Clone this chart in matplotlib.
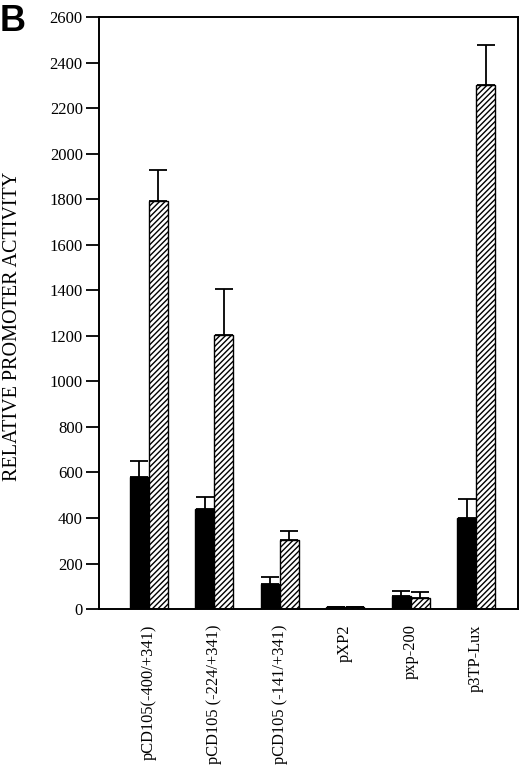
import numpy as np
import matplotlib.pyplot as plt

plt.rcParams['font.family'] = ['Liberation Serif', 'DejaVu Serif']
plt.rcParams['hatch.linewidth'] = 1.0

constructs = ['pCD105(-400/+341)', 'pCD105 (-224/+341)', 'pCD105 (-141/+341)',
              'pXP2', 'pxp-200', 'p3TP-Lux']
black_vals = [578, 438, 111, 8, 57, 398]
black_err = [73, 55, 31, 0, 21, 84]
hatch_vals = [1792, 1205, 303, 10, 47, 2300]
hatch_err = [138, 202, 41, 0, 26, 175]

fig = plt.figure(figsize=(5.2, 7.71), dpi=100)
ax = fig.add_axes([0.190, 0.210, 0.806, 0.768])

x = np.arange(len(constructs))
w = 0.29
ax.bar(x - w / 2, black_vals, w, color='black', edgecolor='black', linewidth=1)
ax.bar(x + w / 2, hatch_vals, w, color='white', edgecolor='black', linewidth=1, hatch='//////')

# one-sided (upper) error bars
ax.errorbar(x - w / 2, black_vals, yerr=[np.zeros(len(x)), black_err], fmt='none',
            ecolor='black', elinewidth=1.3, capsize=6.5, capthick=1.3)
ax.errorbar(x + w / 2, hatch_vals, yerr=[np.zeros(len(x)), hatch_err], fmt='none',
            ecolor='black', elinewidth=1.3, capsize=6.5, capthick=1.3)

ax.set_xlim(-0.765, 5.64)
ax.set_ylim(0, 2600)
ax.set_yticks(np.arange(0, 2601, 200))
ax.tick_params(axis='y', direction='out', length=9.5, width=1.3, labelsize=12, pad=2)
ax.set_xticks(x)
ax.set_xticklabels(constructs, rotation=90, fontsize=11.8)
ax.tick_params(axis='x', length=0, pad=11)
for s in ax.spines.values():
    s.set_linewidth(1.4)

fig.text(13 / 520, 1 - 326 / 771, 'RELATIVE PROMOTER ACTIVITY', fontsize=14.5,
         rotation=90, ha='center', va='center')
fig.text(0.0, 0.995, 'B', fontsize=26, fontweight='bold', family='Liberation Sans',
         ha='left', va='top')

fig.savefig('out.png', dpi=100)
